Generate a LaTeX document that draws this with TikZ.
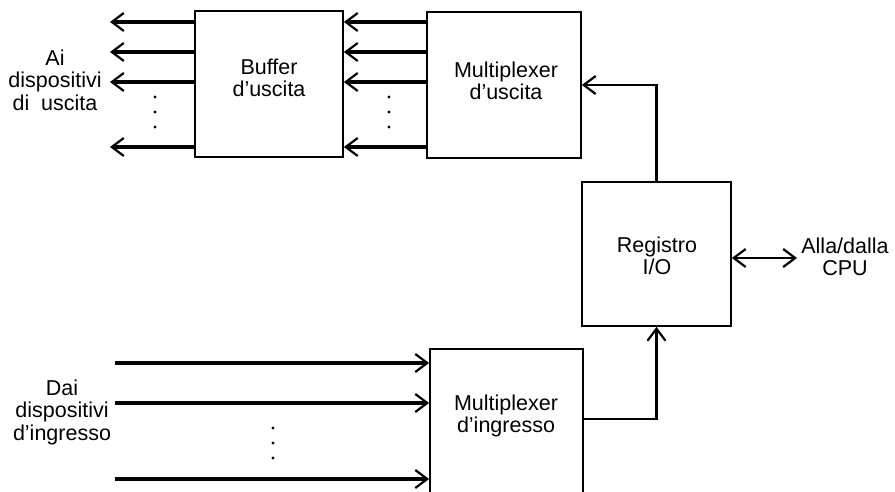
\documentclass[tikz,border=0pt]{standalone}
\usepackage{fontspec}
\setmainfont{Liberation Sans}
\usetikzlibrary{arrows.meta}
\begin{document}
\begin{tikzpicture}[x=1pt,y=-1pt,
  box/.style={draw,line width=1.8pt,inner sep=0pt},
  lbl/.style={align=center,inner sep=0pt,font=\fontsize{21.5}{22.5}\selectfont},
  tip/.tip={Straight Barb[length=12pt,width=18pt,line width=2.2pt]},
  bus/.style={line width=3.2pt,-tip},
  link/.style={line width=2.4pt,-tip},
  dot/.style={fill,radius=1.6pt}]
\clip (0,0) rectangle (895,492);

% blocks
\node[box,minimum width=148pt,minimum height=146pt] (buf) at (269,84) {};
\node[box,minimum width=154pt,minimum height=146pt] (muxout) at (504,85) {};
\node[box,minimum width=149pt,minimum height=144pt] (reg) at (656.5,254) {};
\node[box,minimum width=153pt,minimum height=181pt] (muxin) at (506.5,439.5) {};

% block captions
\node[lbl] (buflbl) at (269,78) {Buffer\\d'uscita};
\node[lbl] (muxoutlbl) at (506,81) {Multiplexer\\d'uscita};
\node[lbl] (reglbl) at (657,256) {Registro\\I/O};
\node[lbl] (muxinlbl) at (506,416) {Multiplexer\\d'ingresso};

% side captions
\node[lbl] (outdev) at (55,80) {Ai\\dispositivi\\di~~uscita};
\node[lbl] (indev) at (62,412) {Dai\\dispositivi\\d'ingresso};
\node[lbl] (cpulbl) at (845,257) {Alla/dalla\\CPU};

% output lines
\coordinate (o1) at (110,22);
\coordinate (o2) at (110,52);
\coordinate (o3) at (110,82);
\coordinate (o4) at (110,147);
\foreach \c in {o1,o2,o3,o4}{
  \draw[bus] (buf.west |- \c) -- (\c);
  \draw[bus] (muxout.west |- \c) -- (buf.east |- \c);
}
\foreach \yy in {97,112,127}{
  \fill[dot] (155,\yy) circle;
  \fill[dot] (389,\yy) circle;
}

% input lines
\coordinate (i1) at (115,363);
\coordinate (i2) at (115,403);
\coordinate (i3) at (115,479);
\foreach \c in {i1,i2,i3}{
  \draw[bus] (\c) -- (muxin.west |- \c);
}
\foreach \yy in {428,443,458}{
  \fill[dot] (273,\yy) circle;
}

% register connections
\draw[link] (reg.north) |- (muxout.east);
\coordinate (mi) at (583,419);
\draw[link] (mi) -| (reg.south);
\coordinate (cpu) at (797,258);
\draw[link,tip-tip] (reg.east |- cpu) -- (cpu);
\end{tikzpicture}
\end{document}
